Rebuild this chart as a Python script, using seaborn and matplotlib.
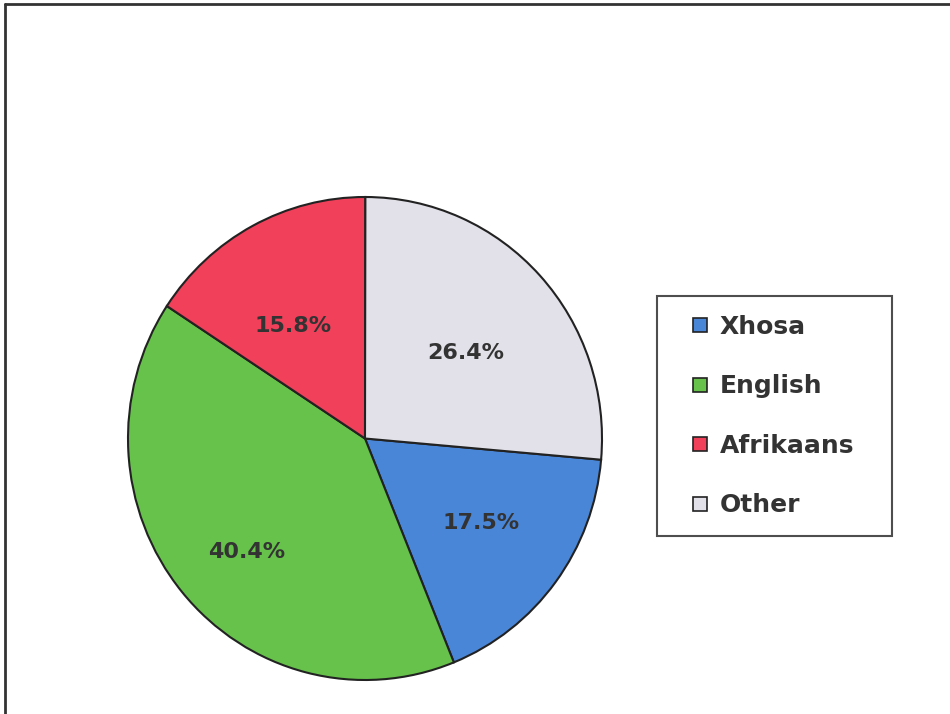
import matplotlib
matplotlib.use("Agg")
import numpy as np
import matplotlib.pyplot as plt
import seaborn as sns
from matplotlib.lines import Line2D

# Data
languages = ['Xhosa', 'English', 'Afrikaans', 'Other']
shares = [17.5, 40.4, 15.8, 26.4]
colors = ['#4a86d8', '#66c24a', '#f0405a', '#e2e0e8']

# label placement tweaks (radius fraction, angle offset in degrees)
label_r = [0.603, 0.686, 0.555, 0.553]
label_dang = [0.8, 4.0, 4.6, -2.9]

sns.set_theme(style="white")
plt.rcParams['font.family'] = ['DejaVu Sans']

fig = plt.figure(figsize=(9.5, 7.14), dpi=100)
ax = fig.add_axes([128 / 950, 34 / 714, 474 / 950, 483 / 714])

# Excel-style: slices go clockwise, "Other" ends at 12 o'clock
start = 90 - shares[-1] / 100 * 360
wedges, texts, autotexts = ax.pie(
    shares, colors=colors, startangle=start, counterclock=False,
    autopct=lambda p: f'{p:.1f}%', pctdistance=0.6,
    wedgeprops={'edgecolor': '#222222', 'linewidth': 1.5},
    textprops={'fontsize': 16, 'fontweight': 'bold', 'color': '#333333'})
ax.set_aspect('auto')
ax.set_xlim(-1.0, 1.0)
ax.set_ylim(-1.0, 1.0)
ax.axis('off')

for w, t, r, da in zip(wedges, autotexts, label_r, label_dang):
    mid = np.deg2rad((w.theta1 + w.theta2) / 2 + da)
    t.set_position((r * np.cos(mid), r * np.sin(mid)))

handles = [Line2D([], [], ls='none', marker='s', markersize=10,
                  markerfacecolor=c, markeredgecolor='#222222', markeredgewidth=1.2)
           for c in colors]
leg = fig.legend(handles, languages, loc='upper left',
                 bbox_to_anchor=(657 / 950, (714 - 536) / 714, 235 / 950, 240 / 714),
                 mode='expand', frameon=True, fancybox=False,
                 prop={'family': 'DejaVu Sans', 'weight': 'bold', 'size': 18},
                 handlelength=1.96, handletextpad=-0.2,
                 labelspacing=1.42, borderpad=0.75, borderaxespad=0)
leg.get_frame().set_edgecolor('#222222')
leg.get_frame().set_linewidth(1.5)
for txt in leg.get_texts():
    txt.set_color('#333333')

# outer frame (left and top edges visible in the scan)
fig.add_artist(Line2D([5 / 950, 5 / 950], [0, 1 - 4 / 714], color='#333333', lw=2))
fig.add_artist(Line2D([5 / 950, 1], [1 - 4 / 714, 1 - 4 / 714], color='#333333', lw=2))

plt.savefig('out.png', dpi=100)
plt.close()
